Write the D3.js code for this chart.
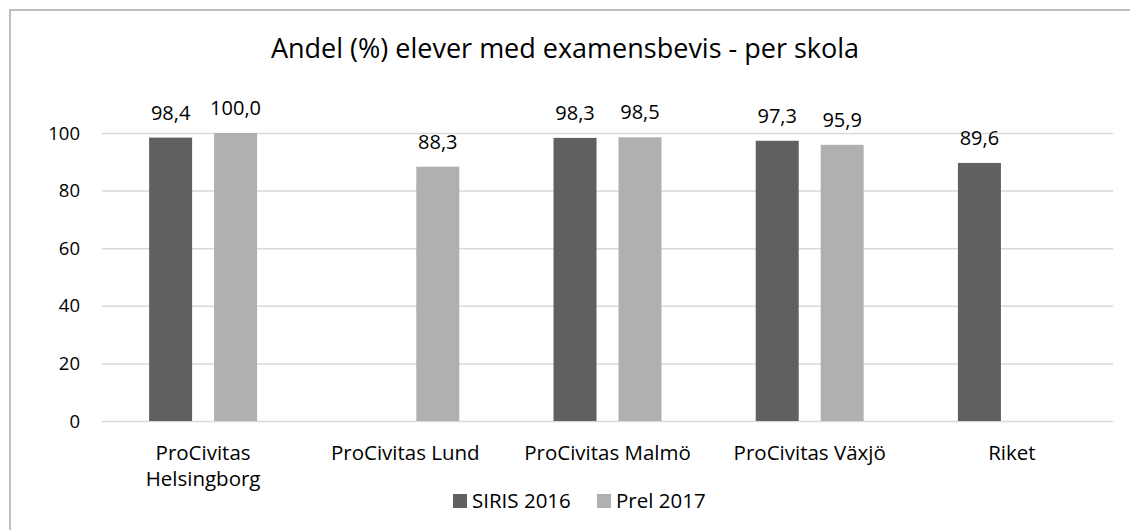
<!DOCTYPE html>
<html>
<head>
<meta charset="utf-8">
<script src="https://cdn.jsdelivr.net/npm/d3@7"></script>
<style>
  body { margin: 0; background: #fff; overflow: hidden; }
  svg { display: block; }
  svg text { font-family: "Open Sans", sans-serif; fill: #000; }
</style>
</head>
<body>
<svg id="chart"></svg>
<script>
const categories = ["ProCivitas Helsingborg", "ProCivitas Lund", "ProCivitas Malmö", "ProCivitas Växjö", "Riket"];
const categoryLines = [["ProCivitas", "Helsingborg"], ["ProCivitas Lund"], ["ProCivitas Malmö"], ["ProCivitas Växjö"], ["Riket"]];
const seriesNames = ["SIRIS 2016", "Prel 2017"];
const siris2016 = [98.4, null, 98.3, 97.3, 89.6];
const prel2017 = [100.0, 88.3, 98.5, 95.9, null];
const yTicks = [0, 20, 40, 60, 80, 100];
const colors = ["#606060", "#b0b0b0"];

const width = 1130;
const height = 530;
const margin = { top: 133, right: 17, bottom: 109, left: 102 };
const innerWidth = width - margin.left - margin.right;
const innerHeight = height - margin.top - margin.bottom;

const svg = d3.select("#chart").attr("width", width).attr("height", height);

// chart border: only left and top edges show in the screenshot
svg.append("path")
  .attr("d", `M10,${height} V10 H${width}`)
  .attr("fill", "none")
  .attr("stroke", "#bfbfbf")
  .attr("stroke-width", 2);

svg.append("text")
  .attr("x", 565)
  .attr("y", 58)
  .attr("text-anchor", "middle")
  .style("font-size", "27px")
  .text("Andel (%) elever med examensbevis - per skola");

const g = svg.append("g").attr("transform", `translate(${margin.left},${margin.top})`);

const x0 = d3.scaleBand().domain(categories).range([0, innerWidth]);
const groupWidth = x0.bandwidth() * 0.534;
const x1 = d3.scaleBand().domain(seriesNames)
  .range([-groupWidth / 2, groupWidth / 2]).paddingInner(0.338);
const y = d3.scaleLinear().domain([0, 100]).range([innerHeight, 0]);

// gridlines from the axis, labels drawn separately
const yAxis = g.append("g")
  .call(d3.axisLeft(y).tickValues(yTicks).tickSizeInner(-innerWidth).tickSizeOuter(0).tickFormat(""));
yAxis.select(".domain").remove();
yAxis.selectAll("line").attr("stroke", "#d9d9d9").attr("stroke-width", 1.5);

g.selectAll(".ylabel")
  .data(yTicks)
  .enter()
  .append("text")
  .attr("class", "ylabel")
  .attr("x", -22)
  .attr("y", (d) => y(d) + 6.5)
  .attr("text-anchor", "end")
  .style("font-size", "18.5px")
  .text((d) => d);

const rows = categories.map((c, i) => ({
  name: c,
  values: [siris2016[i], prel2017[i]]
}));

const fmt = (v) => d3.format(".1f")(v).replace(".", ",");

const groups = g.selectAll(".group")
  .data(rows)
  .enter()
  .append("g")
  .attr("transform", (d) => `translate(${x0(d.name) + x0.bandwidth() / 2},0)`);

const bars = groups.selectAll("g.bar")
  .data((d) => d.values.map((v, j) => ({ key: seriesNames[j], value: v, idx: j })).filter((b) => b.value != null))
  .enter()
  .append("g")
  .attr("class", "bar");

bars.append("rect")
  .attr("x", (d) => x1(d.key))
  .attr("y", (d) => y(d.value))
  .attr("width", x1.bandwidth())
  .attr("height", (d) => innerHeight - y(d.value))
  .attr("fill", (d) => colors[d.idx]);

bars.append("text")
  .attr("x", (d) => x1(d.key) + x1.bandwidth() / 2)
  .attr("y", (d) => y(d.value) - 18)
  .attr("text-anchor", "middle")
  .style("font-size", "20px")
  .text((d) => fmt(d.value));

// category labels, Helsingborg wraps onto two lines
const xlabels = g.selectAll(".xlabel")
  .data(categories)
  .enter()
  .append("text")
  .attr("class", "xlabel")
  .attr("text-anchor", "middle")
  .style("font-size", "20.5px");
xlabels.each(function (d, i) {
  const t = d3.select(this);
  categoryLines[i].forEach((ln, k) => {
    t.append("tspan")
      .attr("x", x0(d) + x0.bandwidth() / 2)
      .attr("y", innerHeight + 39 + k * 26)
      .text(ln);
  });
});

// legend
const legend = svg.append("g").attr("transform", "translate(453,494)");
const legendX = [0, 144];
seriesNames.forEach((s, i) => {
  legend.append("rect")
    .attr("x", legendX[i]).attr("y", 0)
    .attr("width", 14).attr("height", 14)
    .attr("fill", colors[i]);
  legend.append("text")
    .attr("x", legendX[i] + 19).attr("y", 14)
    .style("font-size", "20.5px")
    .text(s);
});
</script>
</body>
</html>
